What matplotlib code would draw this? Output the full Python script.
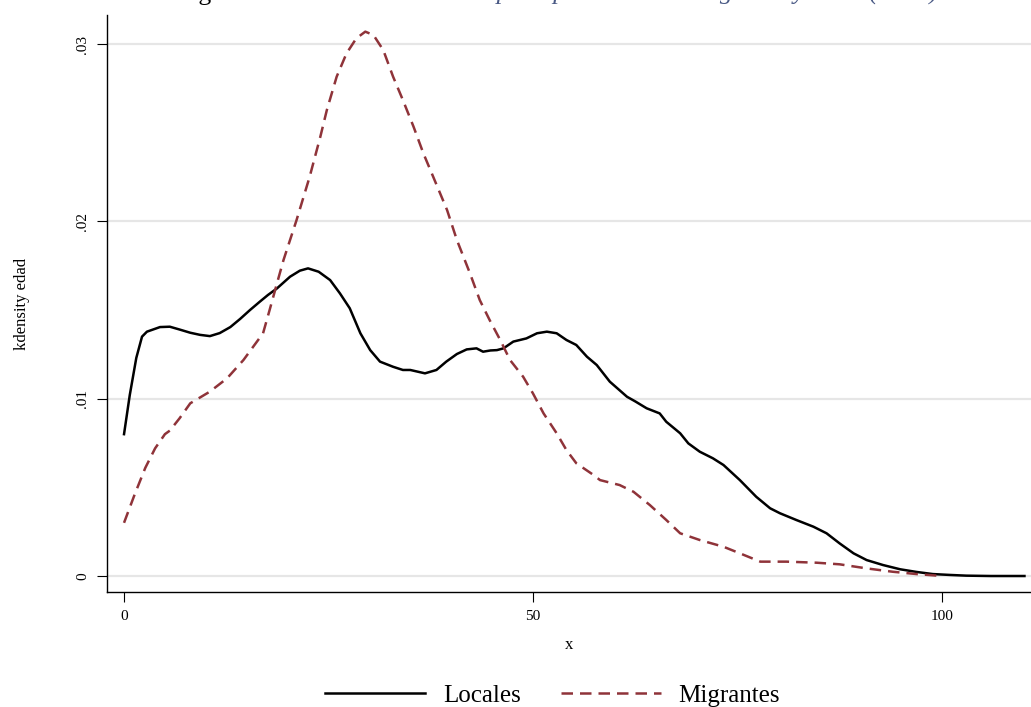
import numpy as np
import matplotlib
matplotlib.use('Agg')
import matplotlib.pyplot as plt

plt.rcParams['font.family'] = 'Liberation Serif'
plt.rcParams['font.size'] = 10

# kdensity edad - locales
x_loc = [0, 0.7, 1.5, 2.2, 2.8, 4.4, 5.6, 6.8, 8.1, 9.3, 10.5, 11.7, 13.0, 14.2, 15.4,
         16.6, 17.6, 18.7, 20.3, 21.5, 22.5, 23.8, 25.2, 26.4, 27.6, 28.9, 30.1, 31.3,
         32.9, 34.1, 35.0, 36.8, 38.2, 39.4, 40.7, 41.9, 43.1, 43.9, 44.8, 45.6, 46.4,
         47.6, 49.2, 50.5, 51.7, 52.9, 54.1, 55.3, 56.6, 57.8, 59.4, 61.5, 62.5, 63.9,
         65.5, 66.3, 68.0, 69.0, 70.4, 72.0, 73.3, 75.3, 77.3, 79.0, 80.2, 82.2, 84.3,
         85.9, 87.5, 89.2, 90.8, 92.8, 94.9, 96.9, 98.9, 101.0, 103.0, 106.0, 110.1]
y_loc = [0.0080, 0.0102, 0.0123, 0.0135, 0.01378, 0.01404, 0.01406, 0.01390, 0.01372,
         0.01360, 0.01353, 0.01370, 0.01404, 0.01450, 0.01500, 0.01547, 0.01585,
         0.01622, 0.01688, 0.01722, 0.01735, 0.01716, 0.01669, 0.01594, 0.01510,
         0.01369, 0.01274, 0.01209, 0.01180, 0.01162, 0.01162, 0.01143, 0.01162,
         0.01209, 0.01252, 0.01278, 0.01284, 0.01265, 0.01272, 0.01274, 0.01284,
         0.01322, 0.01340, 0.01369, 0.01378, 0.01369, 0.01331, 0.01303, 0.01237,
         0.01190, 0.01096, 0.01011, 0.00985, 0.00946, 0.00917, 0.00870, 0.00805,
         0.00748, 0.00701, 0.00664, 0.00626, 0.00541, 0.00447, 0.00382, 0.00354,
         0.00316, 0.00278, 0.00241, 0.00184, 0.00128, 0.00090, 0.00062, 0.00038,
         0.00023, 0.00011, 0.00006, 0.00002, 0.0, 0.0]

# kdensity edad - migrantes
x_mig = [0, 1.3, 2.6, 3.8, 5.0, 5.6, 6.8, 8.1, 10.5, 12.6, 14.6, 17.0, 17.8, 18.7,
         19.5, 21.1, 22.7, 24.0, 24.8, 26.0, 27.2, 28.4, 29.5, 30.5, 31.7, 32.9,
         34.1, 35.4, 36.6, 37.8, 39.5, 40.7, 42.3, 43.5, 44.7, 46.0, 47.2, 48.8,
         50.0, 51.3, 52.9, 54.1, 55.3, 57.4, 58.2, 60.6, 62.3, 64.3, 66.3, 68.0,
         70.4, 73.3, 75.3, 77.8, 81.0, 84.7, 87.5, 90.8, 94.0, 96.9, 98.9, 100.0]
y_mig = [0.0030, 0.0046, 0.0061, 0.0072, 0.0080, 0.0082, 0.0089, 0.00974, 0.0104,
         0.01115, 0.01218, 0.01369, 0.0150, 0.0165, 0.01782, 0.02008, 0.02252,
         0.02477, 0.02628, 0.02816, 0.02947, 0.03032, 0.0307, 0.03051, 0.02966,
         0.02816, 0.02684, 0.02534, 0.02384, 0.02252, 0.02064, 0.01895, 0.01707,
         0.01556, 0.01444, 0.01331, 0.01218, 0.01124, 0.0103, 0.00917, 0.00805,
         0.0071, 0.00636, 0.0057, 0.00541, 0.00513, 0.00475, 0.0040, 0.00316,
         0.00241, 0.00203, 0.00165, 0.00128, 0.00081, 0.00081, 0.00075, 0.00066,
         0.00043, 0.00024, 0.00011, 0.00004, 0.0]

xticks = [0, 50, 100]
yticks = [0, 0.01, 0.02, 0.03]
ylabels = ['0', '.01', '.02', '.03']

fig = plt.figure(figsize=(10.31, 7.07), dpi=100)
ax = fig.add_axes([0.1038, 0.1627, 0.8962, 0.8161])

ax.plot(x_loc, y_loc, color='black', lw=1.8, label='Locales')
ax.plot(x_mig, y_mig, color='#8f3339', lw=1.8, dashes=(4.6, 2.8), label='Migrantes')

ax.set_xlim(-2.08, 110.9)
ax.set_ylim(-0.0009, 0.03164)
ax.set_xticks(xticks)
ax.set_yticks(yticks)
ax.set_yticklabels(ylabels, rotation=90, va='center')
ax.yaxis.grid(True, color='#e6e6e6', lw=1.6)
ax.set_axisbelow(True)
for s in ['top', 'right']:
    ax.spines[s].set_visible(False)
ax.spines['left'].set_linewidth(1.0)
ax.spines['bottom'].set_linewidth(1.0)
ax.tick_params(length=7, width=0.8, labelsize=11, pad=6)
ax.set_xlabel('x', fontsize=12, labelpad=10)
ax.set_ylabel('kdensity edad', fontsize=12, labelpad=33)

fig.legend(loc='lower center', bbox_to_anchor=(0.536, -0.032), ncol=2, frameon=False,
           fontsize=18, handlelength=4.0, columnspacing=1.6, handletextpad=0.7)

# titulo (cortado en el borde superior)
fig.text(0.172, 1.0, 'Figura 3:', fontsize=18.5, va='baseline', color='black')
fig.text(0.265, 1.0, 'Distribución de edad por tipo de estatus migrante y local (2017)',
         fontsize=18.5, va='baseline', style='italic', color='#4a5a85')

fig.savefig('out.png', dpi=100)
